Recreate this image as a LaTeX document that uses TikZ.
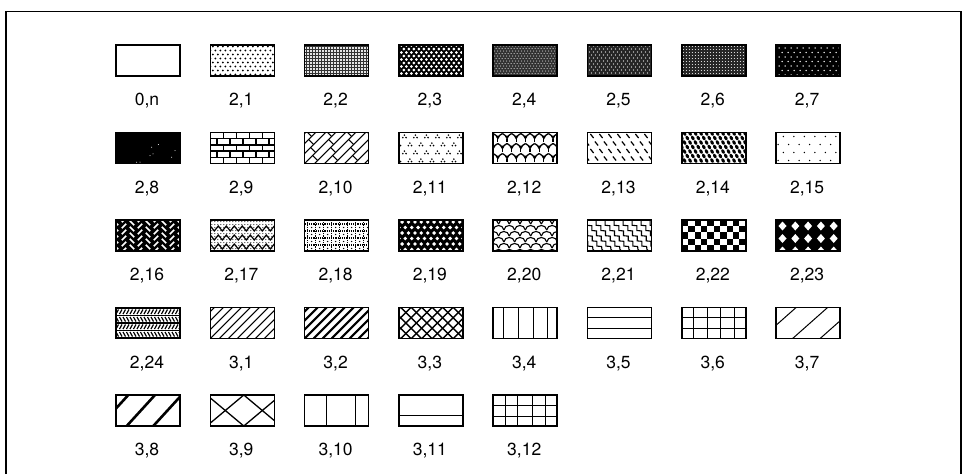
\documentclass[tikz,border=0pt]{standalone}
\usepackage{fontspec}
\setmainfont{TeX Gyre Heros}
\usetikzlibrary{decorations.pathmorphing}

\begin{document}
\begin{tikzpicture}[
    x=1pt, y=-1pt,
    swatch/.style={minimum width=64pt, minimum height=31pt, inner sep=0pt, outer sep=0pt},
    edge/.style={line width=1.6pt},
    lab/.style={anchor=base, inner sep=0pt, font=\fontsize{17.5}{20}\selectfont},
    thin hatch/.style={line width=1pt},
    thick hatch/.style={line width=2pt}
]
\useasboundingbox (0,0) rectangle (968,474);

% Frame
\draw[line width=1.2pt] (6,474) -- (6,11.5) -- (961,11.5) -- (961,474);

% Swatches and labels, eight per row
\foreach \lab [count=\i from 0] in {{0,n},{2,1},{2,2},{2,3},{2,4},{2,5},{2,6},{2,7},
    {2,8},{2,9},{2,10},{2,11},{2,12},{2,13},{2,14},{2,15},
    {2,16},{2,17},{2,18},{2,19},{2,20},{2,21},{2,22},{2,23},
    {2,24},{3,1},{3,2},{3,3},{3,4},{3,5},{3,6},{3,7},
    {3,8},{3,9},{3,10},{3,11},{3,12}} {
  \pgfmathtruncatemacro\cl{mod(\i,8)}
  \pgfmathtruncatemacro\rw{div(\i,8)}
  \node[swatch] (s\i) at (148+94.3*\cl, 60.5+87.5*\rw) {};
  \node[lab] (l\i) at (147+94.3*\cl, 105.5+87.5*\rw) {\lab};
}

% 2,1 light dots
\begin{scope}[shift={(s1.north west)}]
  \clip (0,0) rectangle (64,31);
  \foreach \y [count=\k] in {1.5,5.5,...,33} \foreach \x in {0,5,...,66}
    \fill ({\x+2.5*mod(\k,2)},\y) circle (1.05pt);
\end{scope}

% 2,2 fine grid
\begin{scope}[shift={(s2.north west)}]
  \clip (0,0) rectangle (64,31);
  \fill[black!10] (0,0) rectangle (64,31);
  \foreach \x in {1.5,4.5,...,64} \draw[line width=0.6pt, black!80] (\x,0) -- (\x,31);
  \foreach \y in {1.5,4.5,...,31} \draw[line width=0.6pt, black!80] (0,\y) -- (64,\y);
\end{scope}

% 2,3 dark, white holes
\begin{scope}[shift={(s3.north west)}]
  \clip (0,0) rectangle (64,31);
  \fill (0,0) rectangle (64,31);
  \foreach \y [count=\k] in {0.5,4,...,33} \foreach \x in {0,5,...,66}
    \fill[white] ({\x+2.5*mod(\k,2)},\y) circle (1.5pt);
\end{scope}

% 2,4 dense dark
\begin{scope}[shift={(s4.north west)}]
  \clip (0,0) rectangle (64,31);
  \fill[black!80] (0,0) rectangle (64,31);
  \foreach \y [count=\k] in {1,3.5,...,33} \foreach \x in {0,3,...,66}
    \fill[white] ({\x+1.5*mod(\k,2)},\y) circle (0.5pt);
\end{scope}

% 2,5 darker
\begin{scope}[shift={(s5.north west)}]
  \clip (0,0) rectangle (64,31);
  \fill[black!85] (0,0) rectangle (64,31);
  \foreach \y [count=\k] in {1,4,...,33} \foreach \x in {0,4,...,66}
    \fill[white] ({\x+2*mod(\k,2)},\y) circle (0.6pt);
\end{scope}

% 2,6 dark grid
\begin{scope}[shift={(s6.north west)}]
  \clip (0,0) rectangle (64,31);
  \fill[black!85] (0,0) rectangle (64,31);
  \foreach \y in {1.5,4.5,...,31} \foreach \x in {1.5,4.5,...,64}
    \fill[white] (\x,\y) circle (0.55pt);
\end{scope}

% 2,7 black, small white dots
\begin{scope}[shift={(s7.north west)}]
  \clip (0,0) rectangle (64,31);
  \fill (0,0) rectangle (64,31);
  \foreach \y [count=\k] in {3,7.5,...,33} \foreach \x in {0,6,...,66}
    \fill[white] ({\x+3*mod(\k,2)},\y) circle (0.8pt);
\end{scope}

% 2,8 solid
\begin{scope}[shift={(s8.north west)}]
  \clip (0,0) rectangle (64,31);
  \fill (0,0) rectangle (64,31);
  \foreach \p in {(35.7,14.7),(42.3,12),(34,23),(37,21.3),(55.7,24.7),(59,18),(20.7,29.7),(24,29.7)}
    \fill[white] \p circle (0.5pt);
\end{scope}

% 2,9 bricks
\begin{scope}[shift={(s9.north west)}]
  \clip (0,0) rectangle (64,31);
  \foreach \y in {0,6.2,...,32} \draw[line width=1.5pt] (0,\y) -- (64,\y);
  \foreach \j in {0,...,4} \foreach \x in {0,13,...,65}
    \draw[line width=1.5pt] ({\x+6.5*mod(\j,2)},6.2*\j) -- ++(0,6.2);
\end{scope}

% 2,10 diagonal parquet
\begin{scope}[shift={(s10.north west)}]
  \clip (0,0) rectangle (64,31);
  \foreach \a [count=\k] in {-40,-30,...,66} {
    \draw[line width=1.2pt] (\a,31) -- ++(31,-31);
    \foreach \s in {0,16,...,40}
      \draw[line width=1.2pt] ({\a+\s+8*mod(\k,2)},{31-\s-8*mod(\k,2)}) -- ++(5,5);
  }
\end{scope}

% 2,11 dot triangles
\begin{scope}[shift={(s11.north west)}]
  \clip (0,0) rectangle (64,31);
  \foreach \y [count=\k] in {4,12,...,33} \foreach \x in {0,11,...,66}
    \fill ({\x+5.5*mod(\k,2)},\y) ++(0,-1.4) circle (0.9pt) ++(-1.6,2.5) circle (0.9pt) ++(3.2,0) circle (0.9pt);
\end{scope}

% 2,12 trees
\begin{scope}[shift={(s12.north west)}]
  \clip (0,0) rectangle (64,31);
  \foreach \y [count=\k] in {6,16,...,36} \foreach \xx in {0,9.2,...,70} {
    \pgfmathsetmacro\x{\xx+4.6*mod(\k,2)}
    \fill (\x-1.8,\y-2.8) -- (\x+1.8,\y-2.8) -- (\x,\y) -- cycle;
    \draw[line width=1.3pt] (\x-4.6,\y-5) .. controls (\x-2.5,\y-4.5) and (\x-0.8,\y-2) .. (\x,\y)
      .. controls (\x+0.8,\y-2) and (\x+2.5,\y-4.5) .. (\x+4.6,\y-5);
    \draw[line width=1.3pt] (\x,\y) -- (\x,\y+3.5);
  }
\end{scope}

% 2,13 short dashes
\begin{scope}[shift={(s13.north west)}]
  \clip (0,0) rectangle (64,31);
  \foreach \y [count=\k] in {3.5,11,...,33} \foreach \x in {0,9,...,66}
    \draw[line width=1.2pt] ({\x+4.5*mod(\k,2)-1.6},\y-2) -- ++(3.2,4);
\end{scope}

% 2,14 blobs
\begin{scope}[shift={(s14.north west)}]
  \clip (0,0) rectangle (64,31);
  \foreach \y [count=\k] in {1,5.5,...,33} \foreach \x in {0,5.5,...,66}
    \fill ({\x+2.75*mod(\k,2)},\y) ellipse [x radius=2.4pt, y radius=1.6pt, rotate=-60];
\end{scope}

% 2,15 sparse dots
\begin{scope}[shift={(s15.north west)}]
  \clip (0,0) rectangle (64,31);
  \foreach \y [count=\k] in {4,12,...,33} \foreach \x in {2,12.5,...,66}
    \fill ({\x+5.25*mod(\k,2)},\y) circle (0.85pt);
\end{scope}

% 2,16 black, white herringbone dashes
\begin{scope}[shift={(s16.north west)}]
  \clip (0,0) rectangle (64,31);
  \fill (0,0) rectangle (64,31);
  \foreach \x [count=\k] in {0,8,...,66} \foreach \y in {0,6,...,36}
    \draw[white, line width=1.6pt] (\x-2.2,{\y+3*mod(\k,2)+2.2*(1-2*mod(\k,2))}) -- (\x+2.2,{\y+3*mod(\k,2)-2.2*(1-2*mod(\k,2))});
\end{scope}

% 2,17 zigzags over dots
\begin{scope}[shift={(s17.north west)}]
  \clip (0,0) rectangle (64,31);
  \foreach \y in {1.5,4.5,...,31} \foreach \x in {1.5,4.5,...,64}
    \fill (\x,\y) circle (0.55pt);
  \foreach \y in {11,20,29}
    \draw[line width=1.2pt] (-4,\y) \foreach \x in {0,8,...,64} { -- (\x,\y-5) -- (\x+4,\y) };
\end{scope}

% 2,18 dotted grid
\begin{scope}[shift={(s18.north west)}]
  \clip (0,0) rectangle (64,31);
  \foreach \x in {3,11,...,64} \draw[line width=1.4pt, dash pattern=on 1.2pt off 1pt] (\x,0) -- (\x,31);
  \foreach \y in {4,11,...,31} \draw[line width=1.4pt, dash pattern=on 1.2pt off 1pt] (0,\y) -- (64,\y);
  \foreach \x in {7,15,...,64} \foreach \y in {7.5,14.5,...,31} \fill (\x,\y) circle (0.7pt);
\end{scope}

% 2,19 black, white holes
\begin{scope}[shift={(s19.north west)}]
  \clip (0,0) rectangle (64,31);
  \fill (0,0) rectangle (64,31);
  \foreach \y [count=\k] in {2,7.5,...,34} \foreach \x in {0,6.4,...,70}
    \fill[white] ({\x+3.2*mod(\k,2)},\y) circle (1.9pt);
\end{scope}

% 2,20 scales
\begin{scope}[shift={(s20.north west)}]
  \clip (0,0) rectangle (64,31);
  \foreach \y [count=\k] in {4,10,...,37} \foreach \xx in {-10.7,0,...,70} {
    \pgfmathsetmacro\x{\xx+5.35*mod(\k,2)}
    \draw[line width=1.1pt] (\x,\y) .. controls (\x+0.8,\y-6) and (\x+9.9,\y-6) .. (\x+10.7,\y);
  }
\end{scope}

% 2,21 waves
\begin{scope}[shift={(s21.north west)}]
  \clip (0,0) rectangle (64,31);
  \foreach \a in {-30,-21,...,64}
    \draw[line width=1.1pt, decorate, decoration={snake, amplitude=1.6pt, segment length=7pt}] (\a,0) -- (\a+28,31);
\end{scope}

% 2,22 checkerboard
\begin{scope}[shift={(s22.north west)}]
  \clip (0,0) rectangle (64,31);
  \foreach \j in {0,...,4} \foreach \i in {0,2,...,10}
    \fill ({6.4*\i+6.4*mod(\j,2)},6.2*\j) rectangle ++(6.4,6.2);
\end{scope}

% 2,23 black, white diamonds
\begin{scope}[shift={(s23.north west)}]
  \clip (0,0) rectangle (64,31);
  \fill (0,0) rectangle (64,31);
  \foreach \y in {6,18.5,31} \foreach \x in {6.4,19.2,...,64}
    \fill[white] (\x,\y-4.5) -- (\x+4,\y) -- (\x,\y+4.5) -- (\x-4,\y) -- cycle;
\end{scope}

% 2,24 knit rows
\begin{scope}[shift={(s24.north west)}]
  \clip (0,0) rectangle (64,31);
  \foreach \y in {0.5,8,...,31} \draw[line width=1.3pt] (0,\y) -- (64,\y);
  \foreach \y [count=\k] in {0.5,8,...,24} \foreach \x in {0,3.5,...,66}
    \draw[line width=1.2pt] ({\x+2.5*mod(\k,2)},\y+1.5) -- ({\x+2.5-2.5*mod(\k,2)},\y+6);
\end{scope}

% 3,1 thin diagonals
\begin{scope}[shift={(s25.north west)}]
  \clip (0,0) rectangle (64,31);
  \foreach \a in {-36,-27,...,64} \draw[thin hatch] (\a,31) -- ++(31,-31);
\end{scope}

% 3,2 thick diagonals
\begin{scope}[shift={(s26.north west)}]
  \clip (0,0) rectangle (64,31);
  \foreach \a in {-36,-27,...,64} \draw[thick hatch] (\a,31) -- ++(31,-31);
\end{scope}

% 3,3 crosshatch
\begin{scope}[shift={(s27.north west)}]
  \clip (0,0) rectangle (64,31);
  \foreach \a in {-40,-29.5,...,64} {
    \draw[line width=1.3pt] (\a,31) -- ++(31,-31);
    \draw[line width=1.3pt] (\a,0) -- ++(31,31);
  }
\end{scope}

% 3,4 verticals
\begin{scope}[shift={(s28.north west)}]
  \foreach \x in {10,25,40,54} \draw[thin hatch] (\x,0) -- (\x,31);
\end{scope}

% 3,5 horizontals
\begin{scope}[shift={(s29.north west)}]
  \foreach \y in {10,21} \draw[thin hatch] (0,\y) -- (64,\y);
\end{scope}

% 3,6 grid
\begin{scope}[shift={(s30.north west)}]
  \foreach \x in {12,25.5,39,52.5} \draw[thin hatch] (\x,0) -- (\x,31);
  \foreach \y in {10.3,20.7} \draw[thin hatch] (0,\y) -- (64,\y);
\end{scope}

% 3,7 wide diagonals
\begin{scope}[shift={(s31.north west)}]
  \clip (0,0) rectangle (64,31);
  \foreach \a in {-15,16.5,44} \draw[thin hatch] (\a,31) -- ++(35,-31);
\end{scope}

% 3,8 wide thick diagonals
\begin{scope}[shift={(s32.north west)}]
  \clip (0,0) rectangle (64,31);
  \foreach \a in {-16,10.7,37.3} \draw[line width=2.6pt] (\a,31) -- ++(28.3,-31);
\end{scope}

% 3,9 wide crosshatch
\begin{scope}[shift={(s33.north west)}]
  \clip (0,0) rectangle (64,31);
  \foreach \a in {-40.5,-3.5,33.5} {
    \draw[line width=1.3pt] (\a,31) -- ++(37,-31);
    \draw[line width=1.3pt] (\a,0) -- ++(37,31);
  }
\end{scope}

% 3,10 wide verticals
\begin{scope}[shift={(s34.north west)}]
  \foreach \x in {22,50.5} \draw[thin hatch] (\x,0) -- (\x,31);
\end{scope}

% 3,11 wide horizontal
\begin{scope}[shift={(s35.north west)}]
  \draw[thin hatch] (0,20.5) -- (64,20.5);
\end{scope}

% 3,12 wide grid
\begin{scope}[shift={(s36.north west)}]
  \foreach \x in {12.7,24.3,39.3,52.7} \draw[thin hatch] (\x,0) -- (\x,31);
  \foreach \y in {10,21} \draw[thin hatch] (0,\y) -- (64,\y);
\end{scope}

% Swatch outlines
\foreach \i in {0,...,36} \draw[edge] (s\i.north west) rectangle (s\i.south east);

\end{tikzpicture}
\end{document}
